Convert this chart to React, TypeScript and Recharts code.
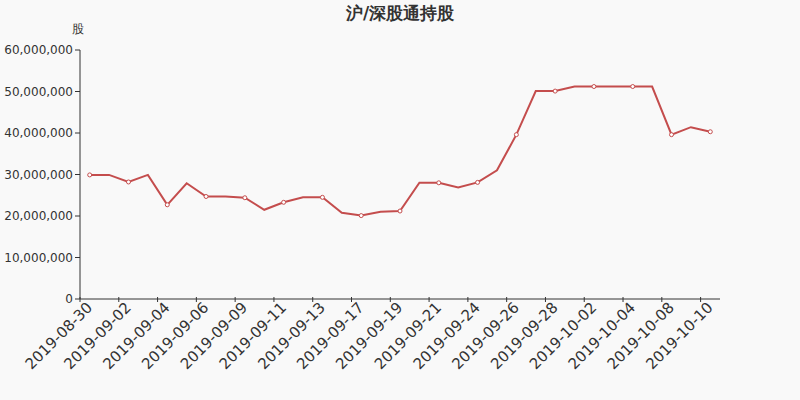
import { LineChart, Line, XAxis, YAxis } from 'recharts';

const dates = [
  '2019-08-30', '2019-08-31', '2019-09-02', '2019-09-03', '2019-09-04', '2019-09-05',
  '2019-09-06', '2019-09-07', '2019-09-09', '2019-09-10', '2019-09-11', '2019-09-12',
  '2019-09-13', '2019-09-16', '2019-09-17', '2019-09-18', '2019-09-19', '2019-09-20',
  '2019-09-21', '2019-09-23', '2019-09-24', '2019-09-25', '2019-09-26', '2019-09-27',
  '2019-09-28', '2019-09-30', '2019-10-02', '2019-10-03', '2019-10-04', '2019-10-07',
  '2019-10-08', '2019-10-09', '2019-10-10',
];

const holdings = [
  29900000, 29900000, 28200000, 29900000, 22700000, 27900000,
  24700000, 24700000, 24400000, 21500000, 23300000, 24500000,
  24500000, 20800000, 20100000, 21000000, 21200000, 28000000,
  28000000, 26900000, 28100000, 31000000, 39600000, 50100000,
  50100000, 51200000, 51200000, 51200000, 51200000, 51200000,
  39600000, 41400000, 40300000,
];

const yTicks = [0, 10000000, 20000000, 30000000, 40000000, 50000000, 60000000];

const data = dates.map((date, i) => ({ date, value: holdings[i] }));

const RED = '#c44d4d';
const AXIS = '#333';
const FONT = '"DejaVu Sans", sans-serif';
const HALF_BAND = 640 / dates.length / 2;

// ticks sit on band edges, labels on band centres (like a boundary-gap axis)
const XTick = (props: any) => {
  const { x, y, payload } = props;
  return (
    <g>
      <line x1={x - HALF_BAND} y1={y - 8} x2={x - HALF_BAND} y2={y - 3} stroke={AXIS} />
      <text
        x={x}
        y={y}
        textAnchor="end"
        dominantBaseline="central"
        fill={AXIS}
        fontSize={15}
        fontFamily={FONT}
        transform={`rotate(-45 ${x} ${y})`}
      >
        {payload.value}
      </text>
    </g>
  );
};

const Dot = (props: any) => {
  const { cx, cy, index } = props;
  if (index % 2 !== 0) return <g key={index} />;
  return <circle key={index} cx={cx} cy={cy} r={2} fill="#fff" stroke={RED} strokeWidth={1} />;
};

const App = () => {
  return (
    <div style={{ position: 'absolute', left: 0, top: 0, width: 800, height: 400, background: '#f9f9f9', fontFamily: FONT }}>
      <div style={{ position: 'absolute', top: 2, left: 0, width: 800, textAlign: 'center', fontSize: 17, fontWeight: 'bold', color: AXIS }}>
        沪/深股通持股
      </div>
      <div style={{ position: 'absolute', top: 21, left: 72, fontSize: 12, color: AXIS }}>股</div>
      <LineChart width={800} height={400} data={data} margin={{ top: 50, right: 80, left: 0, bottom: 0 }}>
        <XAxis
          dataKey="date"
          height={101}
          interval={1}
          padding={{ left: HALF_BAND, right: HALF_BAND }}
          tickLine={false}
          axisLine={{ stroke: AXIS }}
          tick={<XTick />}
          tickMargin={0}
        />
        <YAxis
          width={80}
          domain={[0, 60000000]}
          ticks={yTicks}
          interval={0}
          tickFormatter={(v: number) => v.toLocaleString('en-US')}
          axisLine={{ stroke: AXIS }}
          tickLine={{ stroke: AXIS }}
          tickSize={5}
          tick={{ fill: AXIS, fontSize: 12, fontFamily: FONT }}
        />
        <Line
          type="linear"
          dataKey="value"
          stroke={RED}
          strokeWidth={2}
          dot={<Dot />}
          activeDot={false}
          isAnimationActive={false}
        />
      </LineChart>
    </div>
  );
};

export default App;
